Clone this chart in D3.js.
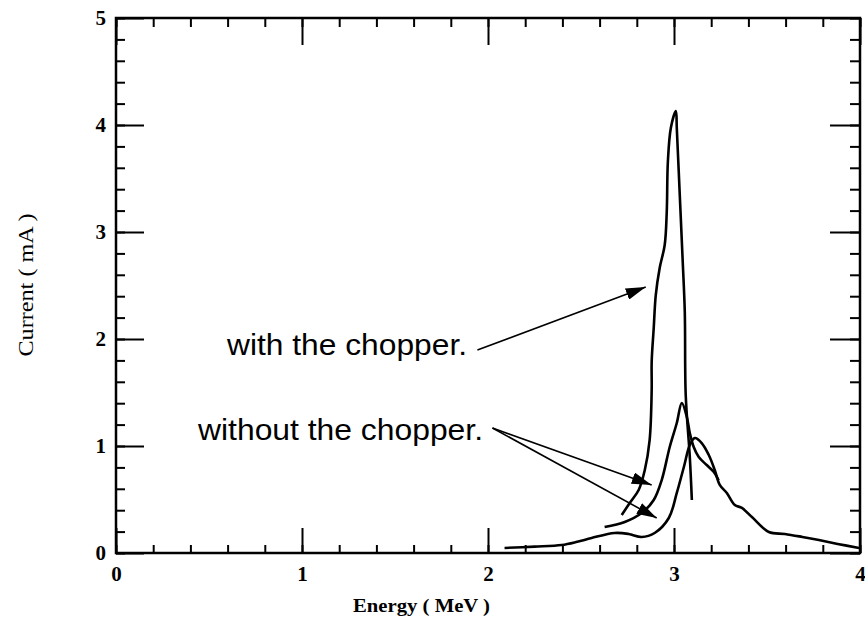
<!DOCTYPE html>
<html>
<head>
<meta charset="utf-8">
<script src="https://cdn.jsdelivr.net/npm/d3@7"></script>
<style>
  body { margin: 0; background: #fff; }
  svg { display: block; }
</style>
</head>
<body>
<svg></svg>
<script>
const width = 865
const height = 625

// Data: [energy MeV, current mA]
const withChopper = [
    [2.719, 0.355], [2.762, 0.467], [2.810, 0.589], [2.843, 0.776], [2.869, 1.056],
    [2.880, 1.523], [2.880, 1.785], [2.891, 2.103], [2.902, 2.411], [2.923, 2.664],
    [2.950, 2.879], [2.961, 3.187], [2.967, 3.654], [2.983, 3.972], [3.010, 4.131],
    [3.015, 3.972], [3.031, 3.346], [3.047, 2.720], [3.058, 2.252], [3.063, 1.477],
    [3.085, 0.897], [3.096, 0.495]
]
const withoutChopperA = [
    [2.627, 0.243], [2.735, 0.290], [2.826, 0.374], [2.891, 0.495], [2.934, 0.682],
    [2.977, 0.991], [3.015, 1.215], [3.042, 1.402], [3.069, 1.271], [3.085, 1.121],
    [3.106, 0.991], [3.133, 0.897], [3.176, 0.822], [3.214, 0.757], [3.240, 0.680]
]
const withoutChopperB = [
    [2.089, 0.047], [2.250, 0.060], [2.396, 0.075], [2.480, 0.105], [2.557, 0.140],
    [2.681, 0.187], [2.756, 0.178], [2.826, 0.150], [2.896, 0.187], [2.972, 0.327],
    [3.015, 0.561], [3.053, 0.804], [3.085, 1.009], [3.112, 1.075], [3.149, 1.028],
    [3.187, 0.916], [3.219, 0.776], [3.246, 0.636], [3.284, 0.561], [3.327, 0.449],
    [3.365, 0.421], [3.419, 0.336], [3.510, 0.196], [3.596, 0.178], [3.690, 0.150],
    [3.779, 0.121], [3.880, 0.085], [3.995, 0.047]
]

const xMajor = [0, 1, 2, 3, 4]
const yMajor = [0, 1, 2, 3, 4, 5]
const xMinor = d3.range(0, 4.01, 0.2)
const yMinor = d3.range(0, 5.01, 0.2)

// Annotations (data coords)
const labels = [
    { text: "with the chopper.", x: 0.597, y: 1.850, len: 240 },
    { text: "without the chopper.", x: 0.441, y: 1.056, len: 285 }
]
const arrows = [
    { from: [1.943, 1.897], to: [2.848, 2.486] },
    { from: [2.024, 1.168], to: [2.880, 0.636] },
    { from: [2.024, 1.168], to: [2.907, 0.327] }
]

const margin = { top: 18, right: 5, bottom: 72, left: 116 }
const innerWidth = width - margin.left - margin.right
const innerHeight = height - margin.top - margin.bottom

const serif = "'Liberation Serif', 'DejaVu Serif', serif"

const svg = d3.select("svg")
    .attr("width", width)
    .attr("height", height)

svg.append("defs").append("marker")
    .attr("id", "head")
    .attr("viewBox", "0 -3 10 6")
    .attr("refX", 10)
    .attr("refY", 0)
    .attr("markerUnits", "userSpaceOnUse")
    .attr("markerWidth", 20)
    .attr("markerHeight", 12)
    .attr("orient", "auto")
    .append("path")
    .attr("d", "M0,-3L10,0L0,3Z")
    .attr("fill", "#000")

const g = svg.append("g")
    .attr("transform", `translate(${margin.left}, ${margin.top})`)

// Scales
const xScale = d3.scaleLinear().domain([0, 4]).range([0, innerWidth])
const yScale = d3.scaleLinear().domain([0, 5]).range([innerHeight, 0])

// Axes: ticks pointing inward on all four sides
const axisStyle = (sel) => {
    sel.selectAll(".domain").remove()
    sel.selectAll(".tick line").attr("stroke", "#000").attr("stroke-width", 2)
}
const noText = (sel) => sel.selectAll(".tick text").remove()
const tickFont = (sel) => sel.selectAll("text")
    .style("font-family", serif)
    .style("font-weight", "bold")
    .style("font-size", "21px")
    .attr("fill", "#000")

// bottom
g.append("g").attr("transform", `translate(0, ${innerHeight})`)
    .call(d3.axisBottom(xScale).tickValues(xMinor).tickSize(-8))
    .call(axisStyle).call(noText)
g.append("g").attr("transform", `translate(0, ${innerHeight})`)
    .call(d3.axisBottom(xScale).tickValues(xMajor).tickSize(-25).tickPadding(13).tickFormat(d3.format("d")))
    .call(axisStyle)
    .call(tickFont)
// top
g.append("g")
    .call(d3.axisTop(xScale).tickValues(xMinor).tickSize(-9))
    .call(axisStyle).call(noText)
g.append("g")
    .call(d3.axisTop(xScale).tickValues(xMajor).tickSize(-27))
    .call(axisStyle).call(noText)
// left
g.append("g")
    .call(d3.axisLeft(yScale).tickValues(yMinor).tickSize(-9))
    .call(axisStyle).call(noText)
g.append("g")
    .call(d3.axisLeft(yScale).tickValues(yMajor).tickSize(-28).tickPadding(10).tickFormat(d3.format("d")))
    .call(axisStyle)
    .call(tickFont)
// right
g.append("g").attr("transform", `translate(${innerWidth}, 0)`)
    .call(d3.axisRight(yScale).tickValues(yMinor).tickSize(-10))
    .call(axisStyle).call(noText)
g.append("g").attr("transform", `translate(${innerWidth}, 0)`)
    .call(d3.axisRight(yScale).tickValues(yMajor).tickSize(-30))
    .call(axisStyle).call(noText)

// frame
g.append("rect")
    .attr("width", innerWidth)
    .attr("height", innerHeight)
    .attr("fill", "none")
    .attr("stroke", "#000")
    .attr("stroke-width", 2.5)

// Curves
const line = d3.line()
    .x(d => xScale(d[0]))
    .y(d => yScale(d[1]))
    .curve(d3.curveCatmullRom.alpha(0.5))

g.selectAll(".curve")
    .data([withChopper, withoutChopperA, withoutChopperB])
    .enter()
    .append("path")
    .attr("class", "curve")
    .attr("d", line)
    .attr("fill", "none")
    .attr("stroke", "#000")
    .attr("stroke-width", 2.6)
    .attr("stroke-linejoin", "round")

// Annotation arrows
g.selectAll(".arrow")
    .data(arrows)
    .enter()
    .append("line")
    .attr("class", "arrow")
    .attr("x1", d => xScale(d.from[0]))
    .attr("y1", d => yScale(d.from[1]))
    .attr("x2", d => xScale(d.to[0]))
    .attr("y2", d => yScale(d.to[1]))
    .attr("stroke", "#000")
    .attr("stroke-width", 1.6)
    .attr("marker-end", "url(#head)")

g.selectAll(".label")
    .data(labels)
    .enter()
    .append("text")
    .attr("class", "label")
    .attr("x", d => xScale(d.x))
    .attr("y", d => yScale(d.y))
    .attr("textLength", d => d.len)
    .attr("lengthAdjust", "spacingAndGlyphs")
    .attr("font-family", "'Liberation Sans', Arial, sans-serif")
    .attr("font-size", "30px")
    .attr("fill", "#000")
    .text(d => d.text)

// Axis titles
svg.append("text")
    .attr("x", 353)
    .attr("y", 612)
    .attr("textLength", 137)
    .attr("lengthAdjust", "spacingAndGlyphs")
    .attr("font-family", serif)
    .attr("font-weight", "bold")
    .attr("font-size", "19px")
    .attr("fill", "#000")
    .text("Energy ( MeV )")

svg.append("text")
    .attr("transform", "translate(33, 285) rotate(-90)")
    .attr("text-anchor", "middle")
    .attr("textLength", 143)
    .attr("lengthAdjust", "spacingAndGlyphs")
    .attr("font-family", serif)
    .attr("font-size", "21px")
    .attr("fill", "#000")
    .text("Current ( mA )")
</script>
</body>
</html>
